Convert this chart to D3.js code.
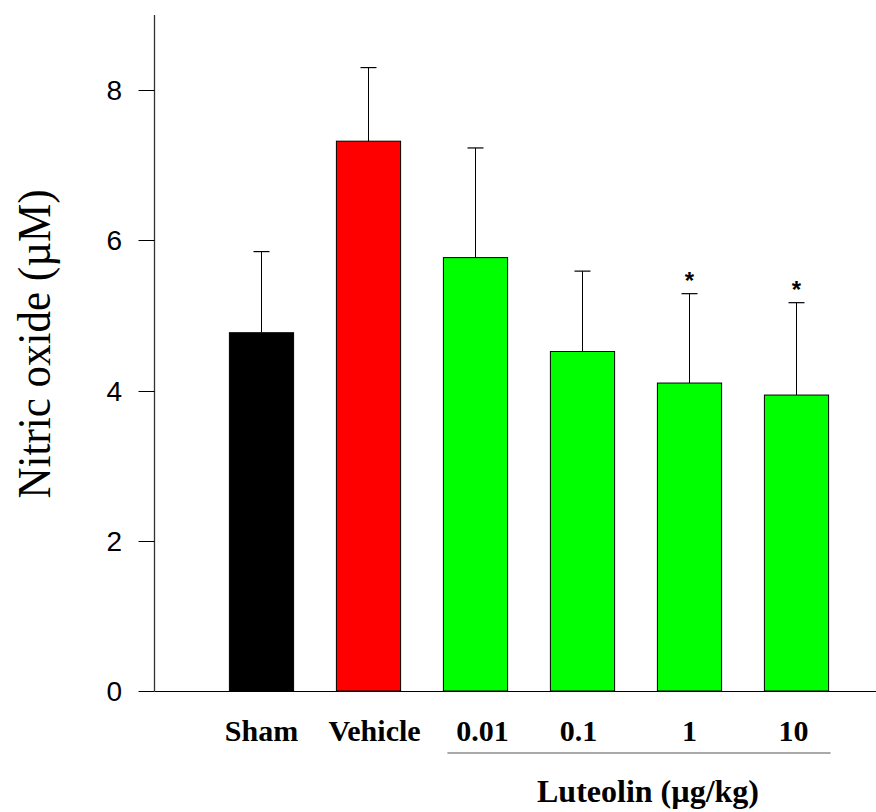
<!DOCTYPE html>
<html>
<head>
<meta charset="utf-8">
<script src="https://cdn.jsdelivr.net/npm/d3@7"></script>
<style>
  body { margin: 0; background: #fff; }
  svg { display: block; }
</style>
</head>
<body>
<svg id="chart" width="876" height="812"></svg>
<script>
// values
var groups = ["Sham", "Vehicle", "0.01", "0.1", "1", "10"];
var means = [4.77, 7.32, 5.77, 4.52, 4.10, 3.94];
var errs = [1.08, 0.98, 1.46, 1.07, 1.19, 1.23];
var signif = [false, false, false, false, true, true];
var yTicks = [0, 2, 4, 6, 8];
var barColors = ["#000000", "#ff0000", "#00ff00", "#00ff00", "#00ff00", "#00ff00"];

var svg = d3.select('#chart');

var y = d3.scaleLinear().domain([0, 9]).range([691, 15]);
var x = d3.scaleBand().domain(groups).range([208, 850]).paddingInner(0.4).paddingOuter(0.2);
var axisX = 154.5;

// axes
svg.append('line')
    .attr('x1', axisX).attr('x2', axisX)
    .attr('y1', y(9)).attr('y2', y(0))
    .attr('stroke', '#333').attr('stroke-width', 1.3);
svg.append('line')
    .attr('x1', axisX).attr('x2', 876)
    .attr('y1', y(0) + 0.5).attr('y2', y(0) + 0.5)
    .attr('stroke', '#000').attr('stroke-width', 1);

var ticks = svg.append('g').attr('class', 'yticks');
ticks.selectAll('line').data(yTicks).enter().append('line')
    .attr('x1', axisX - 16).attr('x2', axisX)
    .attr('y1', function (d) { return Math.round(y(d)) + 0.5; })
    .attr('y2', function (d) { return Math.round(y(d)) + 0.5; })
    .attr('stroke', '#000').attr('stroke-width', 1);
ticks.selectAll('text').data(yTicks).enter().append('text')
    .attr('x', 122)
    .attr('y', function (d) { return y(d); })
    .attr('text-anchor', 'end')
    .attr('dy', '0.36em')
    .style('font-family', "'Liberation Sans', Arial, sans-serif")
    .style('font-size', '28px')
    .text(function (d) { return d; });

// bars
svg.append('g').selectAll('rect').data(groups).enter().append('rect')
    .attr('x', function (d) { return x(d); })
    .attr('y', function (d, i) { return y(means[i]); })
    .attr('width', x.bandwidth())
    .attr('height', function (d, i) { return y(0) - y(means[i]); })
    .attr('fill', function (d, i) { return barColors[i]; })
    .attr('stroke', '#000').attr('stroke-width', 1);

// error bars (upper only)
var eb = svg.append('g').selectAll('g').data(groups).enter().append('g');
eb.append('line')
    .attr('x1', function (d) { return x(d) + x.bandwidth() / 2; })
    .attr('x2', function (d) { return x(d) + x.bandwidth() / 2; })
    .attr('y1', function (d, i) { return y(means[i]); })
    .attr('y2', function (d, i) { return y(means[i] + errs[i]); })
    .attr('stroke', '#000').attr('stroke-width', 1);
eb.append('line')
    .attr('x1', function (d) { return x(d) + x.bandwidth() / 2 - 8; })
    .attr('x2', function (d) { return x(d) + x.bandwidth() / 2 + 8; })
    .attr('y1', function (d, i) { return y(means[i] + errs[i]); })
    .attr('y2', function (d, i) { return y(means[i] + errs[i]); })
    .attr('stroke', '#000').attr('stroke-width', 1.2);

// significance marks
svg.append('g').selectAll('text').data(groups.filter(function (d, i) { return signif[i]; }))
    .enter().append('text')
    .attr('x', function (d) { return x(d) + x.bandwidth() / 2; })
    .attr('y', function (d) { var i = groups.indexOf(d); return y(means[i] + errs[i]) - 5; })
    .attr('text-anchor', 'middle')
    .style('font-family', "'Liberation Sans', Arial, sans-serif")
    .style('font-size', '24px')
    .style('font-weight', 'bold')
    .text('*');

// category labels (original labels sit a little off the bar centres)
var labelNudge = [0, 6, 7, -4, 0, -3];
svg.append('g').selectAll('text').data(groups).enter().append('text')
    .attr('x', function (d, i) { return x(d) + x.bandwidth() / 2 + labelNudge[i]; })
    .attr('y', 741)
    .attr('text-anchor', 'middle')
    .style('font-family', "'Liberation Serif', 'Times New Roman', serif")
    .style('font-size', '30px')
    .style('font-weight', 'bold')
    .text(function (d) { return d; });

// bracket under the luteolin doses
svg.append('line')
    .attr('x1', x('0.01') + 4).attr('x2', x('10') + x.bandwidth() + 2)
    .attr('y1', 753).attr('y2', 753)
    .attr('stroke', '#555').attr('stroke-width', 1.2);

svg.append('text')
    .attr('x', 648)
    .attr('y', 802)
    .attr('text-anchor', 'middle')
    .style('font-family', "'Liberation Serif', 'Times New Roman', serif")
    .style('font-size', '32px')
    .style('font-weight', 'bold')
    .text('Luteolin (\u00b5g/kg)');

// y axis title
svg.append('g')
    .attr('transform', 'translate(50,344) scale(1.1,1) rotate(-90)')
    .append('text')
    .attr('text-anchor', 'middle')
    .style('font-family', "'Liberation Serif', 'Times New Roman', serif")
    .style('font-size', '43px')
    .text('Nitric oxide (\u00b5M)');
</script>
</body>
</html>
